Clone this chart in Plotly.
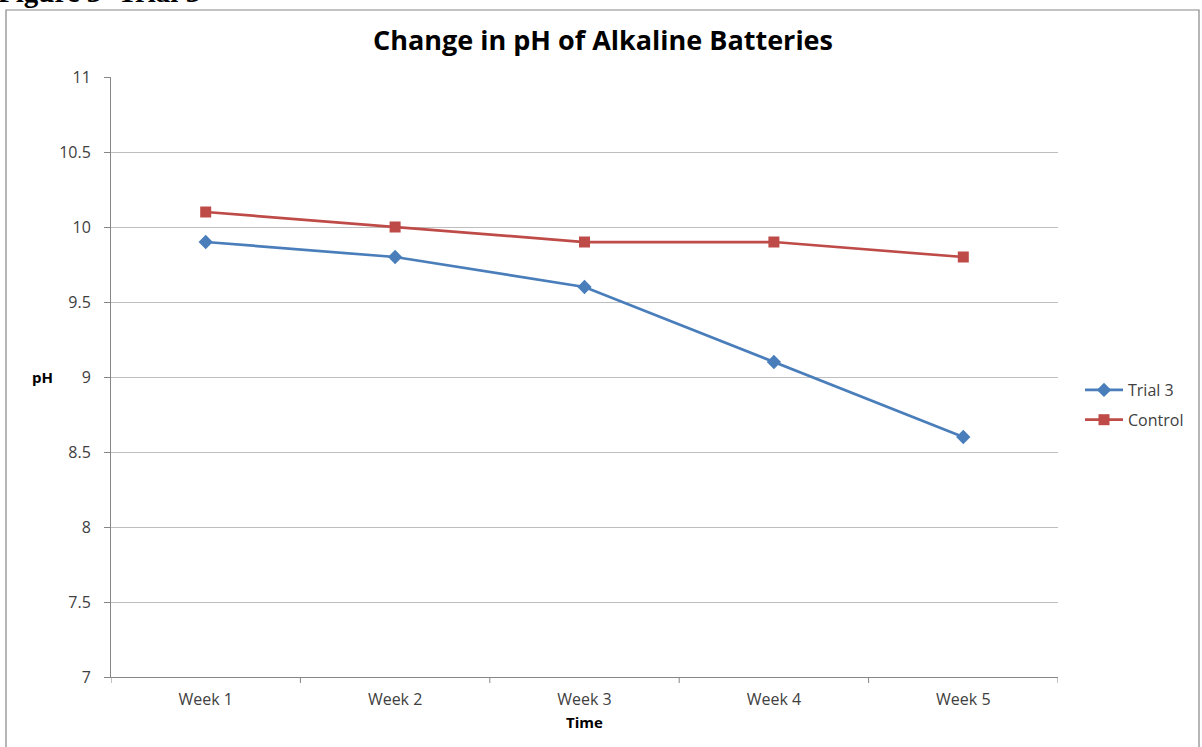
import plotly.graph_objects as go

weeks = ["Week 1", "Week 2", "Week 3", "Week 4", "Week 5"]
trial3 = [9.9, 9.8, 9.6, 9.1, 8.6]
control = [10.1, 10.0, 9.9, 9.9, 9.8]
y_ticks = [7, 7.5, 8, 8.5, 9, 9.5, 10, 10.5, 11]

W, H = 1202, 747
L, R, T, B = 111, 1058, 77, 677
pw, ph = R - L, B - T

def px(x):
    return (x - L) / pw

def py(y):
    return (B - y) / ph

font_fam = "Open Sans, Liberation Sans, sans-serif"

fig = go.Figure()
fig.add_trace(go.Scatter(
    x=list(range(len(weeks))), y=trial3, name="Trial 3", mode="lines+markers",
    legendgroup="a",
    line=dict(color="#4A7EBB", width=2.75),
    marker=dict(symbol="diamond", size=11, color="#4A7EBB"),
))
fig.add_trace(go.Scatter(
    x=list(range(len(weeks))), y=control, name="Control", mode="lines+markers",
    legendgroup="b",
    line=dict(color="#BE4B48", width=2.75),
    marker=dict(symbol="square", size=11, color="#BE4B48"),
))

fig.update_layout(
    width=W, height=H,
    margin=dict(l=L, r=W - R, t=T, b=H - B, pad=0),
    paper_bgcolor="white", plot_bgcolor="white",
    font=dict(family=font_fam, size=16, color="#404040"),
    title=dict(text="<b>Change in pH of Alkaline Batteries</b>",
               x=px(603), xref="paper", xanchor="center",
               y=1 - 41 / H, yanchor="middle",
               font=dict(size=27, color="black", family=font_fam)),
    showlegend=True,
    legend=dict(x=px(1080), xref="paper", xanchor="left",
                y=py(405), yanchor="middle",
                font=dict(size=16, color="#404040"),
                bgcolor="rgba(0,0,0,0)", traceorder="grouped",
                tracegroupgap=6, itemwidth=38),
    xaxis=dict(
        range=[-0.5, 4.5], tickmode="array",
        tickvals=list(range(len(weeks))), ticktext=weeks,
        showgrid=False, showline=True, linecolor="#868686", linewidth=1,
        ticks="", zeroline=False, ticklabelstandoff=8,
        tickfont=dict(size=16),
        title=dict(text="<b>Time</b>", font=dict(size=15, color="black"), standoff=8),
    ),
    yaxis=dict(
        range=[7, 11], tickmode="array", tickvals=y_ticks,
        ticktext=[f"{v:g}" for v in y_ticks],
        showgrid=True, gridcolor="#BEBEBE", gridwidth=1,
        showline=True, linecolor="#868686", linewidth=1,
        ticks="outside", ticklen=6, tickcolor="#868686",
        zeroline=False, ticklabelstandoff=10,
        tickfont=dict(size=16),
    ),
)

# category-boundary tick marks on x axis (Excel style)
shapes = []
for k in range(len(weeks) + 1):
    xb = k - 0.5
    shapes.append(dict(type="line", xref="x", yref="paper", x0=xb, x1=xb,
                       y0=0, y1=py(B + 6), line=dict(color="#868686", width=1)))
# chart frame
shapes.append(dict(type="rect", xref="paper", yref="paper",
                   x0=px(6), x1=px(1199), y0=py(760), y1=py(10),
                   line=dict(color="#868686", width=1.2), layer="below"))
fig.update_layout(shapes=shapes)

# y axis title horizontal
fig.add_annotation(text="<b>pH</b>", xref="paper", yref="paper",
                   x=px(42), xanchor="center", y=py(377), yanchor="middle",
                   showarrow=False,
                   font=dict(size=15, color="black"))
# clipped heading above the chart frame
fig.add_annotation(text="<b>Figure 3- Trial 3</b>", xref="paper", yref="paper",
                   x=px(-4), xanchor="left", y=py(-8), yanchor="middle",
                   showarrow=False,
                   font=dict(size=29, color="black", family="Liberation Serif, DejaVu Serif, serif"))

fig.write_html("out.html", config={"displayModeBar": False},
               post_script="document.body.style.margin='0';")
